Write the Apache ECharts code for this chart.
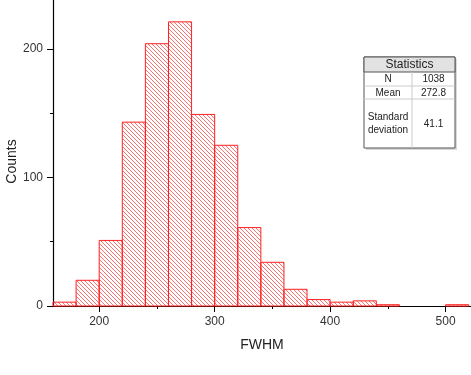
<!DOCTYPE html>
<html>
<head>
<meta charset="utf-8"/>
<title>FWHM histogram</title>
<script src="https://cdn.jsdelivr.net/npm/echarts@6/dist/echarts.min.js"></script>
<style>
  html, body { margin: 0; padding: 0; background: #fff; }
  #main { width: 471px; height: 375px; }
</style>
</head>
<body>
<div id="main"></div>
<script type="text/javascript">
// histogram bins (FWHM), width 20
var binStart = [160, 180, 200, 220, 240, 260, 280, 300, 320, 340, 360, 380, 400, 420, 440, 460, 480, 500];
var binEnd   = [180, 200, 220, 240, 260, 280, 300, 320, 340, 360, 380, 400, 420, 440, 460, 480, 500, 520];
var counts   = [3, 20, 51, 143, 204, 221, 149, 125, 61, 34, 13, 5, 3, 4, 1, 0, 0, 1];

var xMajor = [200, 300, 400, 500];
var xMinor = [250, 350, 450];
var yMajor = [0, 100, 200];
var yMinor = [50, 150];

var statLabels = ['N', 'Mean', 'Standard\ndeviation'];
var statValues = ['1038', '272.8', '41.1'];

var FONT = "'Liberation Sans', Arial, sans-serif";

// hatch pattern, lines going "\"
var hatch = document.createElement('canvas');
hatch.width = 4; hatch.height = 4;
var hc = hatch.getContext('2d');
hc.strokeStyle = 'rgba(255,0,0,0.55)';
hc.lineWidth = 1;
hc.beginPath();
hc.moveTo(-1, -1); hc.lineTo(5, 5);
hc.moveTo(-1, 3); hc.lineTo(1, 5);
hc.moveTo(3, -1); hc.lineTo(5, 1);
hc.stroke();

var data = [];
for (var i = 0; i < counts.length; i++) {
    data.push([binStart[i], binEnd[i], counts[i]]);
}

var chartDom = document.getElementById('main');
var myChart = echarts.init(chartDom);

// statistics table
var tx = 364, ty = 57, tw = 91, c1 = 48;
var rows = [15, 14, 13, 49];
var tableEls = [];
tableEls.push({ type: 'rect', shape: { x: tx + 2, y: ty + 2, width: tw, height: 91 }, style: { fill: 'rgba(0,0,0,0.15)' } });
tableEls.push({ type: 'rect', shape: { x: tx, y: ty, width: tw, height: 91 }, style: { fill: '#fff', stroke: '#555', lineWidth: 1 } });
tableEls.push({ type: 'rect', shape: { x: tx, y: ty, width: tw, height: rows[0] }, style: { fill: '#e2e2e2', stroke: '#555', lineWidth: 1 } });
tableEls.push({ type: 'text', style: { text: 'Statistics', x: tx + tw / 2, y: ty + rows[0] / 2 + 0.5, align: 'center', verticalAlign: 'middle', font: '12px ' + FONT, fill: '#222' } });
var yy = ty + rows[0];
for (var r = 0; r < statLabels.length; r++) {
    var h = rows[r + 1];
    if (r > 0) {
        tableEls.push({ type: 'line', shape: { x1: tx, y1: yy, x2: tx + tw, y2: yy }, style: { stroke: '#ccc', lineWidth: 1 } });
    }
    tableEls.push({ type: 'text', style: { text: statLabels[r], x: tx + c1 / 2, y: yy + h / 2 + 0.5, align: 'center', verticalAlign: 'middle', font: '10px ' + FONT, lineHeight: 13, fill: '#222' } });
    tableEls.push({ type: 'text', style: { text: statValues[r], x: tx + c1 + (tw - c1) / 2, y: yy + h / 2 + 0.5, align: 'center', verticalAlign: 'middle', font: '10px ' + FONT, fill: '#222' } });
    yy += h;
}
tableEls.push({ type: 'line', shape: { x1: tx + c1, y1: ty + rows[0], x2: tx + c1, y2: ty + 91 }, style: { stroke: '#ccc', lineWidth: 1 } });

var option = {
    animation: false,
    grid: { left: 53, right: 0, top: 0, bottom: 69, containLabel: false, outerBoundsMode: 'none' },
    xAxis: [{
        type: 'value', min: 160, max: 522,
        name: 'FWHM', nameLocation: 'middle', nameGap: 32, nameMoveOverlap: false,
        nameTextStyle: { fontSize: 14, color: '#222', fontFamily: FONT },
        axisLine: { lineStyle: { color: '#000', width: 1.2 } },
        axisTick: { length: 6, lineStyle: { color: '#000' }, customValues: xMajor },
        axisLabel: { customValues: xMajor, color: '#333', fontSize: 12, fontFamily: FONT, margin: 10 },
        splitLine: { show: false }
    }, {
        type: 'value', min: 160, max: 522, position: 'bottom',
        axisLine: { show: false },
        axisTick: { length: 3, lineStyle: { color: '#000' }, customValues: xMinor },
        axisLabel: { show: false },
        splitLine: { show: false }
    }],
    yAxis: [{
        type: 'value', min: 0, max: 238,
        name: 'Counts', nameLocation: 'middle', nameGap: 34, nameMoveOverlap: false,
        nameTextStyle: { fontSize: 14, color: '#222', fontFamily: FONT, padding: [0, 17, 0, 0] },
        axisLine: { show: true, lineStyle: { color: '#000', width: 1.2 } },
        axisTick: { show: true, length: 6, lineStyle: { color: '#000' }, customValues: yMajor },
        axisLabel: { customValues: yMajor, color: '#333', fontSize: 12, fontFamily: FONT, margin: 10 },
        splitLine: { show: false }
    }, {
        type: 'value', min: 0, max: 238, position: 'left',
        axisLine: { show: false },
        axisTick: { show: true, length: 3, lineStyle: { color: '#000' }, customValues: yMinor },
        axisLabel: { show: false },
        splitLine: { show: false }
    }],
    series: [{
        type: 'custom',
        xAxisIndex: 0, yAxisIndex: 0,
        data: data,
        encode: { x: [0, 1], y: 2 },
        renderItem: function (params, api) {
            var v = api.value(2);
            if (!v) return null;
            var p0 = api.coord([api.value(0), v]);
            var p1 = api.coord([api.value(1), 0]);
            return {
                type: 'rect',
                shape: { x: p0[0], y: p0[1], width: p1[0] - p0[0], height: p1[1] - p0[1] },
                style: {
                    fill: { image: hatch, repeat: 'repeat' },
                    stroke: '#ff2020', lineWidth: 1
                }
            };
        }
    }],
    graphic: tableEls
};

myChart.setOption(option);
</script>
</body>
</html>
